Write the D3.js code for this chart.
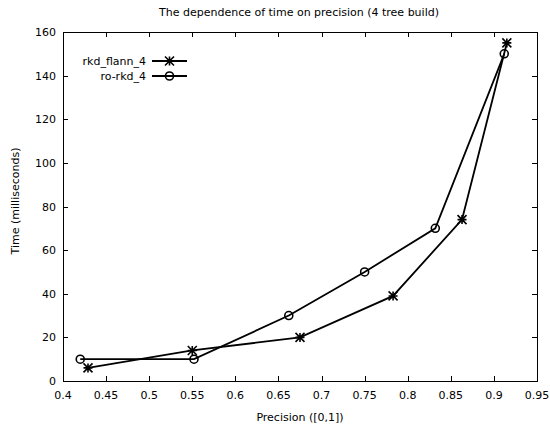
<!DOCTYPE html>
<html><head><meta charset="utf-8">
<script src="https://cdn.jsdelivr.net/npm/d3@7"></script>
<style>body{margin:0;background:#fff}text{font-family:"DejaVu Sans",sans-serif;font-size:11px;fill:#000}</style>
</head><body><svg id="c" width="550" height="429"></svg>
<script>
const title = "The dependence of time on precision (4 tree build)";
const xLabel = "Precision ([0,1])";
const yLabel = "Time (milliseconds)";
const seriesNames = ["rkd_flann_4", "ro-rkd_4"];
const rkdX = [0.429, 0.55, 0.675, 0.783, 0.863, 0.915];
const rkdY = [6, 14, 20, 39, 74, 155];
const roX = [0.42, 0.552, 0.662, 0.75, 0.832, 0.912];
const roY = [10, 10, 30, 50, 70, 150];
const xTicks = [0.4,0.45,0.5,0.55,0.6,0.65,0.7,0.75,0.8,0.85,0.9,0.95];
const yTicks = [0,20,40,60,80,100,120,140,160];

const svg = d3.select("#c");
const L=63, R=537, T=32, B=381;
const x = d3.scaleLinear().domain([0.4,0.95]).range([L,R]);
const y = d3.scaleLinear().domain([0,160]).range([B,T]);
const tl = 5;

const g = svg.append("g");
xTicks.forEach(t=>{
  const px = Math.round(x(t))+0.5;
  g.append("line").attr("x1",px).attr("x2",px).attr("y1",B).attr("y2",B-tl).attr("stroke","#000");
  g.append("line").attr("x1",px).attr("x2",px).attr("y1",T).attr("y2",T+tl).attr("stroke","#000");
  g.append("text").attr("x",x(t)).attr("y",B+18).attr("text-anchor","middle").text(d3.format("")(t));
});
yTicks.forEach(t=>{
  const py = Math.round(y(t))+0.5;
  g.append("line").attr("x1",L).attr("x2",L+tl).attr("y1",py).attr("y2",py).attr("stroke","#000");
  g.append("line").attr("x1",R).attr("x2",R-tl).attr("y1",py).attr("y2",py).attr("stroke","#000");
  g.append("text").attr("x",L-7).attr("y",y(t)+4).attr("text-anchor","end").text(t);
});
svg.append("rect").attr("x",L+0.5).attr("y",T+0.5).attr("width",R-L).attr("height",B-T)
  .attr("fill","none").attr("stroke","#000");

svg.append("text").attr("x",299).attr("y",16).attr("text-anchor","middle").text(title);
svg.append("text").attr("x",300).attr("y",421).attr("text-anchor","middle").text(xLabel);
svg.append("text").attr("transform","translate(19,201) rotate(-90)").attr("text-anchor","middle").text(yLabel);

function star(sel, cx, cy){
  const s=4.5;
  const p = `M${cx-s},${cy}H${cx+s}M${cx},${cy-s}V${cy+s}M${cx-s},${cy-s}L${cx+s},${cy+s}M${cx-s},${cy+s}L${cx+s},${cy-s}`;
  sel.append("path").attr("d",p).attr("stroke","#000").attr("stroke-width",1.6).attr("fill","none");
}
function circ(sel, cx, cy){
  sel.append("circle").attr("cx",cx).attr("cy",cy).attr("r",4).attr("fill","none").attr("stroke","#000").attr("stroke-width",1.6);
}
const line = d3.line().x(d=>x(d[0])).y(d=>y(d[1]));
const series = [
  {name:seriesNames[0], pts:d3.zip(rkdX,rkdY), mk:star},
  {name:seriesNames[1], pts:d3.zip(roX,roY), mk:circ}
];
series.forEach((s,i)=>{
  svg.append("path").attr("d",line(s.pts)).attr("fill","none").attr("stroke","#000").attr("stroke-width",1.8);
  s.pts.forEach(p=>s.mk(svg,x(p[0]),y(p[1])));
  const ly = 61 + i*15;
  svg.append("text").attr("x",146).attr("y",ly+4).attr("text-anchor","end").text(s.name);
  svg.append("line").attr("x1",152).attr("x2",187).attr("y1",ly).attr("y2",ly).attr("stroke","#000").attr("stroke-width",1.8);
  s.mk(svg,169.5,ly);
});
</script></body></html>
